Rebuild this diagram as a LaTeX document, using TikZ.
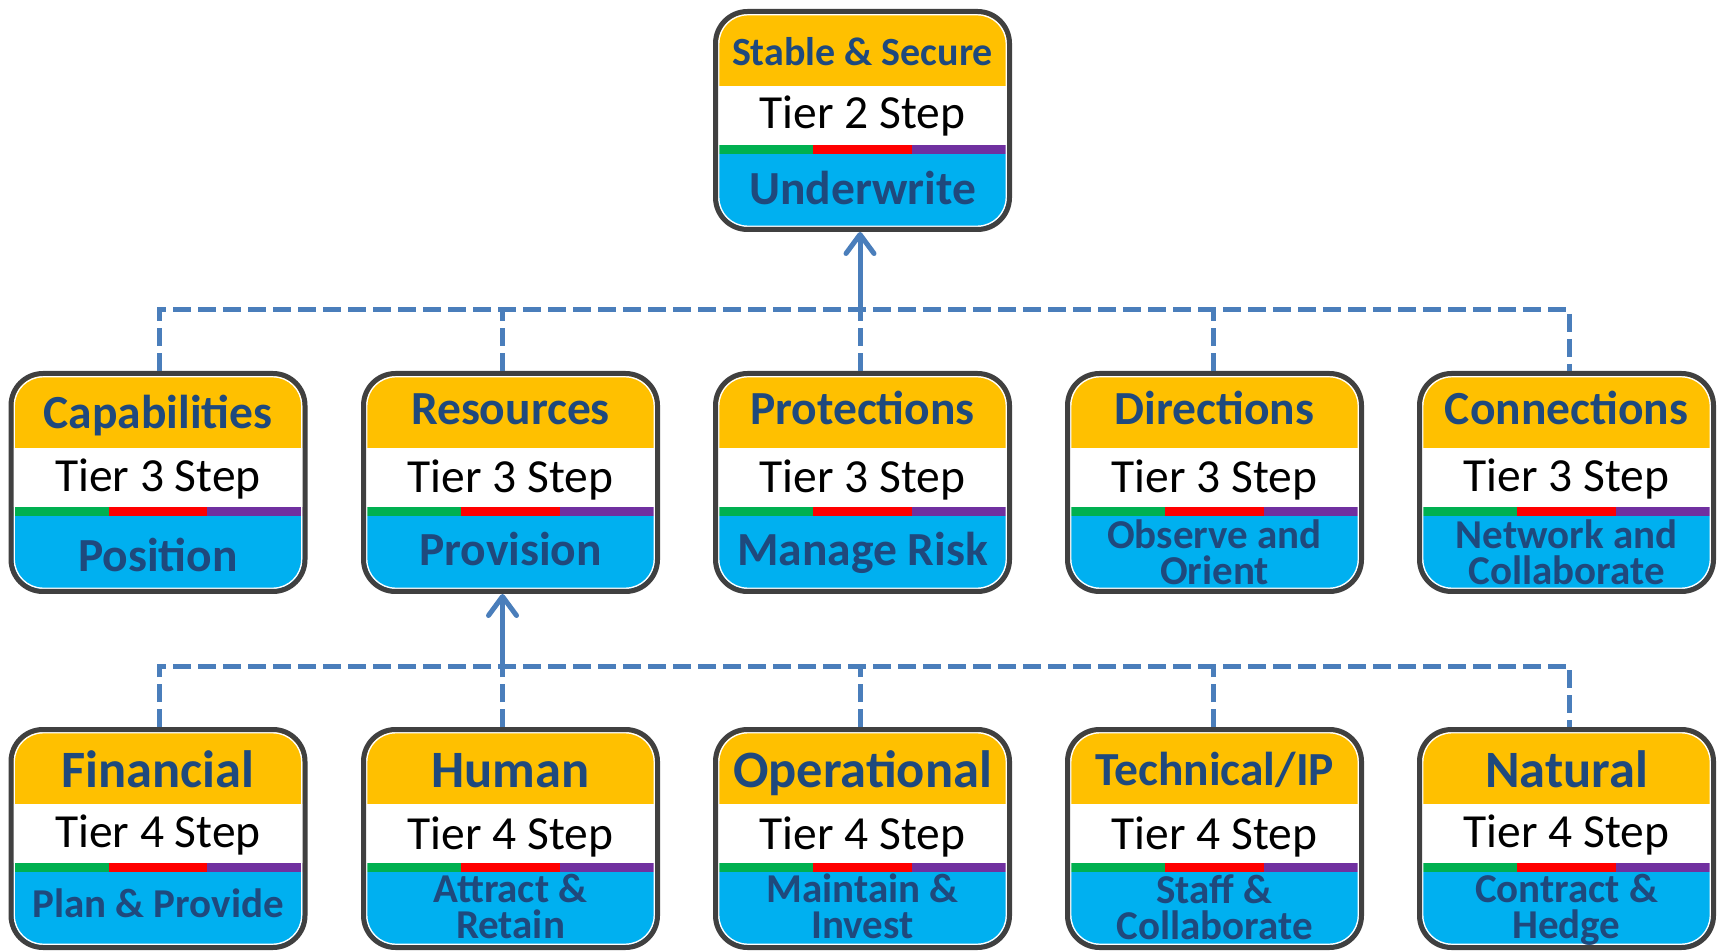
\documentclass[tikz,border=0pt]{standalone}
\usepackage{fontspec}
\setmainfont{Carlito}
\usetikzlibrary{arrows.meta,calc}

\definecolor{bandYellow}{HTML}{FFC000}
\definecolor{bandBlue}{HTML}{00B0F0}
\definecolor{barGreen}{HTML}{00B050}
\definecolor{barRed}{HTML}{FF0000}
\definecolor{barPurple}{HTML}{7030A0}
\definecolor{titleBlue}{HTML}{1F497D}
\definecolor{frameGray}{HTML}{404040}
\definecolor{linkBlue}{HTML}{4A7EBB}

\tikzset{
  % a step card: yellow title band, white tier band, tri-colour bar, blue action band
  stepcard/.style={rectangle, rounded corners=32pt, draw=frameGray, line width=5pt,
    minimum width=294pt, minimum height=218pt, inner sep=0pt,
    path picture={
      \coordinate (nw) at (path picture bounding box.north west);
      \coordinate (se) at (path picture bounding box.south east);
      \coordinate (ne) at (se|-nw);
      \coordinate (t1) at ($(nw)!0.333!(ne)$);
      \coordinate (t2) at ($(nw)!0.667!(ne)$);
      \fill[sharp corners, bandYellow] (nw) rectangle ($(ne)+(0,-74.5)$);
      \fill[sharp corners, white] ($(nw)+(0,-74.5)$) rectangle ($(ne)+(0,-133.5)$);
      \fill[sharp corners, barGreen] ($(nw)+(0,-133.5)$) rectangle ($(t1)+(0,-142.5)$);
      \fill[sharp corners, barRed] ($(t1)+(0,-133.5)$) rectangle ($(t2)+(0,-142.5)$);
      \fill[sharp corners, barPurple] ($(t2)+(0,-133.5)$) rectangle ($(ne)+(0,-142.5)$);
      \fill[sharp corners, bandBlue] ($(nw)+(0,-142.5)$) rectangle (se);
      \draw[white, line width=1.5pt, rounded corners=29pt] ($(nw)+(3.2,-3.2)$) rectangle ($(se)+(-3.2,3.2)$);
    }},
  ttl/.style={anchor=base, inner sep=0pt, text=titleBlue, font=\bfseries\fontsize{47.5}{50}\selectfont},
  ttlsmall/.style={ttl, font=\bfseries\fontsize{40}{44}\selectfont},
  ttlbig/.style={ttl, font=\bfseries\fontsize{52.5}{56}\selectfont},
  tier/.style={anchor=base, inner sep=0pt, text=black, font=\fontsize{47.5}{50}\selectfont},
  act/.style={anchor=base, inner sep=0pt, text=titleBlue, font=\bfseries\fontsize{47.5}{50}\selectfont},
  actsmall/.style={act, font=\bfseries\fontsize{41}{44}\selectfont},
  % two-line action text, set tight
  actpair/.style={anchor=north, align=center, inner sep=0pt, text=titleBlue,
    font=\bfseries\fontsize{41}{36}\selectfont},
  dashlink/.style={draw=linkBlue, line width=5pt, dash pattern=on 18pt off 7pt},
  solidlink/.style={draw=linkBlue, line width=5pt, -{Straight Barb[length=19pt,width=28pt,round]}}
}

\begin{document}
\begin{tikzpicture}[x=1pt,y=1pt]
\useasboundingbox (0,0) rectangle (1723,951);
\fill[white] (0,0) rectangle (1723,951);

% ---- cards ----
\node[stepcard] (und) at (862.5,830.5) {};

\node[stepcard] (cap) at (158,468.5) {};
\node[stepcard] (res) at (510.5,468.5) {};
\node[stepcard] (pro) at (862.5,468.5) {};
\node[stepcard] (dir) at (1214.5,468.5) {};
\node[stepcard] (con) at (1566.5,468.5) {};

\node[stepcard] (fin) at (158,112.5) {};
\node[stepcard] (hum) at (510.5,112.5) {};
\node[stepcard] (ope) at (862.5,112.5) {};
\node[stepcard] (tec) at (1214.5,112.5) {};
\node[stepcard] (nat) at (1566.5,112.5) {};

% ---- tier 2 texts ----
\node[ttlsmall] (undT) at ([yshift=-57pt]und.north) {Stable \& Secure};
\node[tier] (undS) at ([yshift=-120pt]und.north) {Tier 2 Step};
\node[act] (undA) at ([yshift=-195.5pt]und.north) {Underwrite};

% ---- tier 3 texts ----
\node[ttl] (capT) at ([yshift=-58pt]cap.north) {Capabilities};
\node[tier] (capS) at ([yshift=-121pt]cap.north) {Tier 3 Step};
\node[act] (capA) at ([yshift=-201pt]cap.north) {Position};

\node[ttl] (resT) at ([yshift=-54pt]res.north) {Resources};
\node[tier] (resS) at ([yshift=-122pt]res.north) {Tier 3 Step};
\node[act] (resA) at ([yshift=-195pt]res.north) {Provision};

\node[ttl] (proT) at ([yshift=-54pt]pro.north) {Protections};
\node[tier] (proS) at ([yshift=-122pt]pro.north) {Tier 3 Step};
\node[act] (proA) at ([yshift=-195pt]pro.north) {Manage Risk};

\node[ttl] (dirT) at ([yshift=-54pt]dir.north) {Directions};
\node[tier] (dirS) at ([yshift=-122pt]dir.north) {Tier 3 Step};
\node[actpair] (dirA) at ([yshift=-149pt]dir.north) {Observe and\\Orient};

\node[ttl] (conT) at ([yshift=-54pt]con.north) {Connections};
\node[tier] (conS) at ([yshift=-121pt]con.north) {Tier 3 Step};
\node[actpair] (conA) at ([yshift=-149pt]con.north) {Network and\\Collaborate};

% ---- tier 4 texts ----
\node[ttlbig] (finT) at ([yshift=-60pt]fin.north) {Financial};
\node[tier] (finS) at ([yshift=-120.5pt]fin.north) {Tier 4 Step};
\node[actsmall] (finA) at ([yshift=-190.5pt]fin.north) {Plan \& Provide};

\node[ttlbig] (humT) at ([yshift=-60pt]hum.north) {Human};
\node[tier] (humS) at ([yshift=-122.5pt]hum.north) {Tier 4 Step};
\node[actpair] (humA) at ([yshift=-147pt]hum.north) {Attract \&\\Retain};

\node[ttlbig] (opeT) at ([yshift=-60pt]ope.north) {Operational};
\node[tier] (opeS) at ([yshift=-122.5pt]ope.north) {Tier 4 Step};
\node[actpair] (opeA) at ([yshift=-147pt]ope.north) {Maintain \&\\Invest};

\node[ttl] (tecT) at ([yshift=-58pt]tec.north) {Technical/IP};
\node[tier] (tecS) at ([yshift=-122.5pt]tec.north) {Tier 4 Step};
\node[actpair] (tecA) at ([yshift=-147pt]tec.north) {Staff \&\\Collaborate};

\node[ttlbig] (natT) at ([yshift=-60pt]nat.north) {Natural};
\node[tier] (natS) at ([yshift=-120.5pt]nat.north) {Tier 4 Step};
\node[actpair] (natA) at ([yshift=-147pt]nat.north) {Contract \&\\Hedge};

% ---- bus levels ----
\coordinate (busA) at (0,641);
\coordinate (busB) at (0,285);

% ---- tier 3 to tier 2 ----
\draw[dashlink] ([xshift=1pt]cap.north) -- ([xshift=1pt]cap.north |- busA)
  -- ([xshift=2.5pt]con.north |- busA) -- ([xshift=2.5pt]con.north);
\draw[dashlink] ([xshift=-8pt]res.north) -- ([xshift=-8pt]res.north |- busA);
\draw[dashlink] ([xshift=-2.5pt]pro.north) -- ([xshift=-2.5pt]pro.north |- busA);
\draw[dashlink] ([xshift=-1.5pt]dir.north) -- ([xshift=-1.5pt]dir.north |- busA);
\draw[solidlink] ([xshift=-2.5pt]pro.north |- busA) -- ([xshift=-2.5pt]und.south);

% ---- tier 4 to tier 3 ----
\draw[dashlink] ([xshift=1pt]fin.north) -- ([xshift=1pt]fin.north |- busB)
  -- ([xshift=2.5pt]nat.north |- busB) -- ([xshift=2.5pt]nat.north);
\draw[dashlink] ([xshift=-8pt]hum.north) -- ([xshift=-8pt]hum.north |- busB);
\draw[dashlink] ([xshift=-2.5pt]ope.north) -- ([xshift=-2.5pt]ope.north |- busB);
\draw[dashlink] ([xshift=-1.5pt]tec.north) -- ([xshift=-1.5pt]tec.north |- busB);
\draw[solidlink] ([xshift=-8pt]hum.north |- busB) -- ([xshift=-8pt]res.south);
\end{tikzpicture}
\end{document}
